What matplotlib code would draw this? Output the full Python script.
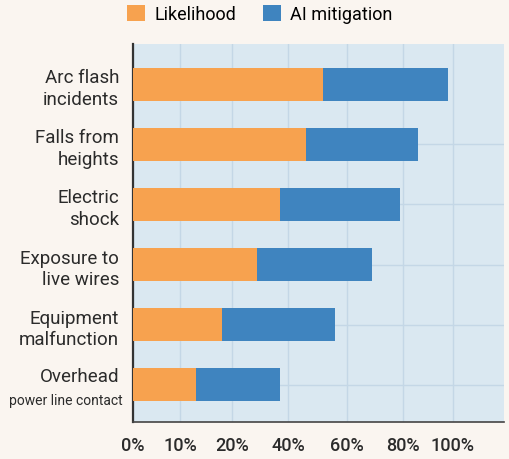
import matplotlib
matplotlib.use("Agg")
import matplotlib.pyplot as plt
import numpy as np

# hazards, top to bottom
categories = ["Arc flash\nincidents", "Falls from\nheights", "Electric\nshock",
              "Exposure to\nlive wires", "Equipment\nmalfunction", "Overhead"]
likelihood = [52, 46, 37, 29, 18, 13]
mitigation = [46, 40, 42, 40, 38, 24]
tick_vals = [0, 10, 20, 40, 60, 80, 100]
tick_labels = ["0%", "10%", "20%", "40%", "60%", "80%", "100%"]

# the axis is not evenly spaced in the source: map values onto spacing read off it
scale_vals = [0, 10, 20, 40, 60, 80, 100, 120]
scale_pos = [0, 47, 99, 155, 214, 270, 320, 371]

def fwd(v):
    return np.interp(v, scale_vals, scale_pos)

def inv(p):
    return np.interp(p, scale_pos, scale_vals)

plt.rcParams['font.family'] = ['Roboto', 'DejaVu Sans']

fig = plt.figure(figsize=(5.1, 4.6), dpi=100, facecolor='#faf5f0')
ax = fig.add_axes([0.261, 0.0804, 0.727, 0.822])
ax.set_facecolor('#dae8f1')
ax.set_xscale('function', functions=(fwd, inv))

y = np.arange(len(categories))
ax.barh(y, likelihood, height=0.55, color='#f7a24f', label='Likelihood', zorder=3)
ax.barh(y, mitigation, left=likelihood, height=0.55, color='#3f84bf',
        label='AI mitigation', zorder=3)

ax.set_xlim(0, 120)
ax.set_ylim(5.62, -0.67)
ax.set_xticks(tick_vals)
ax.set_xticklabels(tick_labels, fontsize=13, fontweight='medium', color='#2b2b2b')
ax.set_yticks(y)
ax.set_yticklabels(categories, fontsize=13.5, color='#2b2b2b', linespacing=1.25)
for lab in ax.get_yticklabels():
    lab.set_horizontalalignment('right')
    lab.set_multialignment('right')
ax.tick_params(axis='both', length=0)
ax.tick_params(axis='y', pad=10)
ax.tick_params(axis='x', pad=10)

# second line of the last label is smaller
ax.text(-0.028, 5.25, "power line contact", transform=ax.get_yaxis_transform(),
        ha='right', va='center', fontsize=10, color='#2b2b2b')
ax.get_yticklabels()[-1].set_y(5.08)
ax.get_yticklabels()[-1].set_verticalalignment('bottom')

ax.grid(axis='x', color='#c4d7e6', linewidth=1, zorder=0)
for yy in y[1:]:
    ax.axhline(yy, color='#c4d7e6', linewidth=1, zorder=0)

for s in ['top', 'right']:
    ax.spines[s].set_visible(False)
ax.spines['left'].set_color('#333333')
ax.spines['left'].set_linewidth(1.6)
ax.spines['bottom'].set_color('#444444')
ax.spines['bottom'].set_linewidth(1.2)

fig.legend(loc='center', bbox_to_anchor=(0.51, 0.967), ncol=2, frameon=False,
           fontsize=13, handlelength=1.0, handleheight=1.0, columnspacing=1.5,
           handletextpad=0.5)

fig.savefig('out.png', dpi=100, facecolor=fig.get_facecolor())
